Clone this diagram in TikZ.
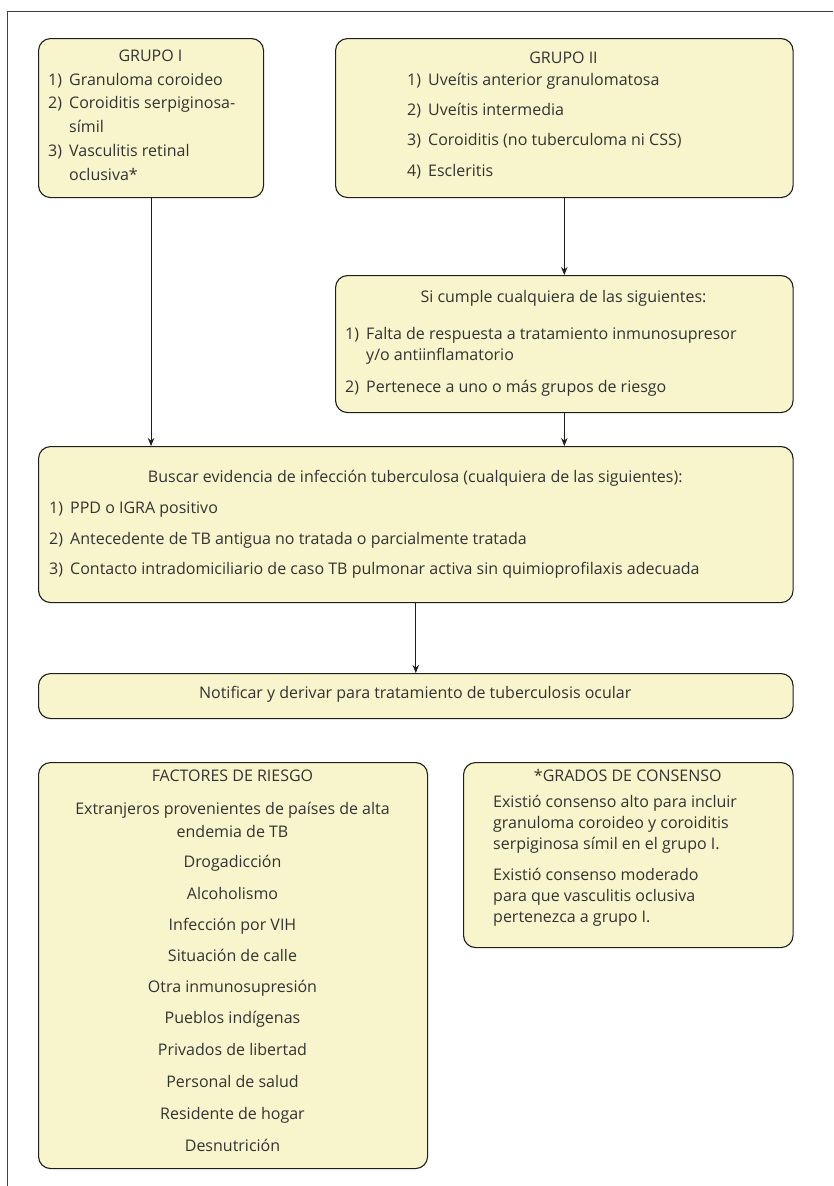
\documentclass[tikz,border=0pt]{standalone}
\usepackage{fontspec}
\setmainfont{Open Sans}
\usetikzlibrary{arrows.meta}
\definecolor{boxfill}{RGB}{248,245,204}
\definecolor{txt}{RGB}{51,51,51}
\definecolor{linec}{RGB}{30,30,30}
\tikzset{
  box/.style={draw=linec, line width=1.1pt, fill=boxfill, rounded corners=12pt, inner sep=0pt, anchor=north west},
  lbl/.style={inner sep=0pt, text=txt, font=\fontsize{16}{19}\selectfont},
  arr/.style={draw=linec, line width=0.9pt, -{Stealth[length=8pt,width=6.5pt]}},
  framel/.style={draw=linec!85, line width=1pt}
}
\newcommand{\nm}[1]{\makebox[21pt][l]{#1}}
\begin{document}
\begin{tikzpicture}[x=1pt,y=-1pt]
\useasboundingbox (0,0) rectangle (833,1186);
\coordinate (fr1) at (833,11);
\coordinate (fr2) at (7,11);
\coordinate (fr3) at (7,1186);
\draw[framel] (fr1) -- (fr2) -- (fr3);

% boxes
\node[box, minimum width=225pt, minimum height=159pt] (g1) at (38,38) {};
\node[box, minimum width=457.5pt, minimum height=159pt] (g2) at (335,38) {};
\node[box, minimum width=457.5pt, minimum height=137pt] (sc) at (335,275) {};
\node[box, minimum width=754.5pt, minimum height=156pt] (bus) at (38,446) {};
\node[box, minimum width=754.5pt, minimum height=45pt] (nt) at (38,673) {};
\node[box, minimum width=389pt, minimum height=406pt] (fac) at (38,762) {};
\node[box, minimum width=329.5pt, minimum height=185pt] (gra) at (463,762) {};

% arrows
\draw[arr] (g1.south) -- (g1.south |- bus.north);
\draw[arr] (g2.south) -- (sc.north);
\draw[arr] (sc.south) -- (sc.south |- bus.north);
\draw[arr] (bus.south) -- (nt.north);

% GRUPO I
\node[lbl, anchor=mid] (g1t) at (150.5,59) {GRUPO I};
\node[lbl, anchor=mid west] (g1a) at (48,83) {\nm{1)}Granuloma coroideo};
\node[lbl, anchor=mid west] (g1b) at (48,106) {\nm{2)}Coroiditis serpiginosa-};
\node[lbl, anchor=mid west] (g1c) at (69,130) {símil};
\node[lbl, anchor=mid west] (g1d) at (48,154) {\nm{3)}Vasculitis retinal};
\node[lbl, anchor=mid west] (g1e) at (69,178) {oclusiva*};

% GRUPO II
\node[lbl, anchor=mid] (g2t) at (563.5,61) {GRUPO II};
\node[lbl, anchor=mid west] (g2a) at (407,83) {\nm{1)}Uveítis anterior granulomatosa};
\node[lbl, anchor=mid west] (g2b) at (407,113) {\nm{2)}Uveítis intermedia};
\node[lbl, anchor=mid west] (g2c) at (407,143) {\nm{3)}Coroiditis (no tuberculoma ni CSS)};
\node[lbl, anchor=mid west] (g2d) at (407,174) {\nm{4)}Escleritis};

% Si cumple
\node[lbl, anchor=mid] (sct) at (563.5,300) {Si cumple cualquiera de las siguientes:};
\node[lbl, anchor=mid west] (sca) at (345,337) {\nm{1)}Falta de respuesta a tratamiento inmunosupresor};
\node[lbl, anchor=mid west] (scb) at (366,358) {y/o antiinflamatorio};
\node[lbl, anchor=mid west] (scc) at (345,390) {\nm{2)}Pertenece a uno o más grupos de riesgo};

% Buscar
\node[lbl, anchor=mid] (bust) at (415.25,480) {Buscar evidencia de infección tuberculosa (cualquiera de las siguientes):};
\node[lbl, anchor=mid west] (busa) at (49,511) {\nm{1)}PPD o IGRA positivo};
\node[lbl, anchor=mid west] (busb) at (49,542) {\nm{2)}Antecedente de TB antigua no tratada o parcialmente tratada};
\node[lbl, anchor=mid west] (busc) at (49,572) {\nm{3)}Contacto intradomiciliario de caso TB pulmonar activa sin quimioprofilaxis adecuada};

% Notificar
\node[lbl, anchor=mid] (ntt) at (415.25,696) {Notificar y derivar para tratamiento de tuberculosis ocular};

% Factores
\node[lbl, anchor=mid] (f0) at (232.5,779) {FACTORES DE RIESGO};
\node[lbl, anchor=mid] (f1) at (232.5,812) {Extranjeros provenientes de países de alta};
\node[lbl, anchor=mid] (f2) at (232.5,835) {endemia de TB};
\node[lbl, anchor=mid] (f3) at (232.5,865) {Drogadicción};
\node[lbl, anchor=mid] (f4) at (232.5,897) {Alcoholismo};
\node[lbl, anchor=mid] (f5) at (232.5,928) {Infección por VIH};
\node[lbl, anchor=mid] (f6) at (232.5,959) {Situación de calle};
\node[lbl, anchor=mid] (f7) at (232.5,990) {Otra inmunosupresión};
\node[lbl, anchor=mid] (f8) at (232.5,1021) {Pueblos indígenas};
\node[lbl, anchor=mid] (f9) at (232.5,1053) {Privados de libertad};
\node[lbl, anchor=mid] (f10) at (232.5,1085) {Personal de salud};
\node[lbl, anchor=mid] (f11) at (232.5,1117) {Residente de hogar};
\node[lbl, anchor=mid] (f12) at (232.5,1149) {Desnutrición};

% Grados
\node[lbl, anchor=mid] (gr0) at (627.75,779) {*GRADOS DE CONSENSO};
\node[lbl, anchor=mid west] (gr1) at (493,805) {Existió consenso alto para incluir};
\node[lbl, anchor=mid west] (gr2) at (493,826) {granuloma coroideo y coroiditis};
\node[lbl, anchor=mid west] (gr3) at (493,847) {serpiginosa símil en el grupo I.};
\node[lbl, anchor=mid west] (gr4) at (493,878) {Existió consenso moderado};
\node[lbl, anchor=mid west] (gr5) at (493,899) {para que vasculitis oclusiva};
\node[lbl, anchor=mid west] (gr6) at (493,920) {pertenezca a grupo I.};
\end{tikzpicture}
\end{document}
